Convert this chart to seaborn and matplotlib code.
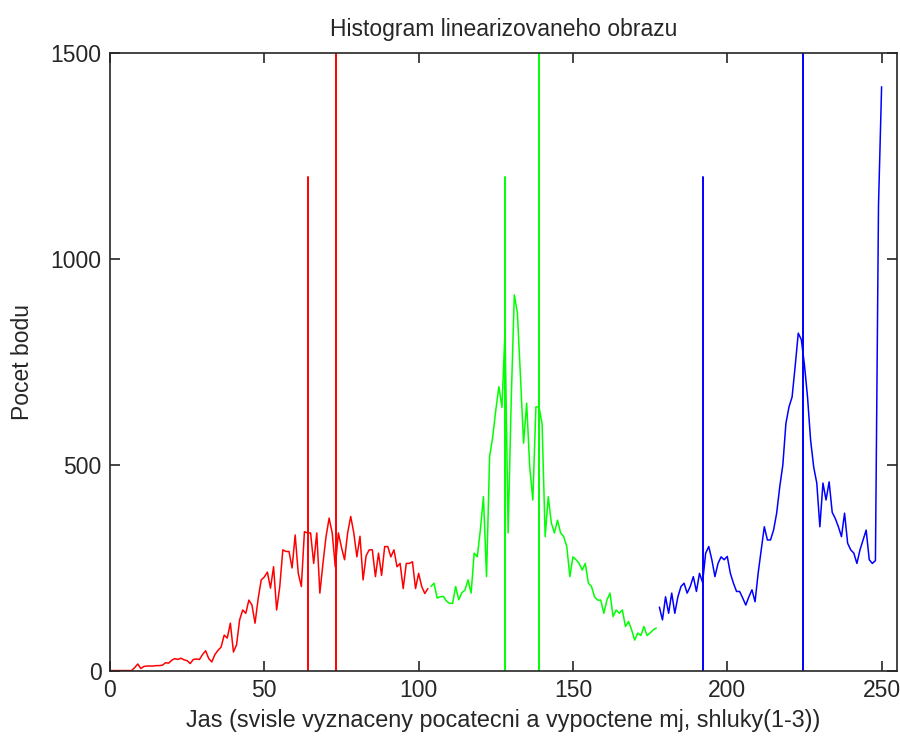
import numpy as np
import pandas as pd
import matplotlib
matplotlib.use("Agg")
import matplotlib.pyplot as plt
import seaborn as sns

# ---- data ----
counts_red = [1, 1, 1, 1, 1, 1, 1, 1, 8, 17,
              6, 11, 12, 12, 12, 13, 13, 14, 20, 19,
              26, 30, 28, 31, 27, 25, 18, 28, 29, 28,
              40, 49, 30, 22, 40, 50, 58, 87, 80, 116,
              46, 63, 124, 148, 140, 172, 160, 116, 175, 221,
              228, 240, 201, 253, 148, 204, 294, 290, 290, 250,
              330, 237, 205, 338, 335, 335, 261, 335, 189, 261,
              326, 371, 335, 253, 335, 300, 270, 335, 375, 335,
              277, 327, 221, 280, 294, 294, 229, 286, 232, 302,
              302, 277, 294, 253, 261, 200, 261, 261, 265, 200,
              237, 205, 188, 200]                      # x = 0 .. 103
counts_green = [205, 213, 177, 180, 181, 170, 164, 164, 205, 173,
                190, 196, 221, 189, 286, 277, 342, 423, 229, 520,
                568, 633, 690, 640, 828, 335, 658, 913, 869, 714,
                553, 650, 495, 415, 641, 641, 600, 326, 423, 359,
                335, 366, 335, 326, 302, 229, 277, 270, 261, 245,
                261, 213, 205, 180, 172, 172, 140, 172, 189, 132,
                148, 140, 148, 108, 120, 100, 75, 92, 86, 108,
                86, 92, 100, 104]                       # x = 104 .. 177
counts_blue = [155, 124, 180, 140, 189, 140, 180, 205, 213, 189,
               205, 229, 193, 237, 215, 286, 302, 270, 229, 261,
               277, 270, 278, 237, 213, 193, 193, 177, 160, 180,
               197, 168, 237, 294, 350, 318, 318, 342, 383, 447,
               500, 601, 641, 665, 740, 820, 804, 743, 665, 560,
               495, 456, 350, 456, 415, 459, 385, 370, 350, 326,
               383, 310, 294, 286, 261, 294, 318, 342, 270, 261,
               268, 1131, 1418]                         # x = 178 .. 250
start_red, start_green, start_blue = 0, 104, 178
initial_means = [64, 128, 192]
final_means = [73.3, 139.1, 224.4]
initial_height = 1200
final_height = 1500
cluster_colors = ["#ff0000", "#00ff00", "#0000ff"]
x_ticks = [0, 50, 100, 150, 200, 250]
y_ticks = [0, 500, 1000, 1500]

title = "Histogram linearizovaneho obrazu"
xlabel = "Jas (svisle vyznaceny pocatecni a vypoctene mj, shluky(1-3))"
ylabel = "Pocet bodu"

# ---- build table ----
frames = []
for name, start, vals in [("1", start_red, counts_red),
                          ("2", start_green, counts_green),
                          ("3", start_blue, counts_blue)]:
    frames.append(pd.DataFrame({"jas": np.arange(start, start + len(vals)),
                                "pocet": vals, "shluk": name}))
df = pd.concat(frames, ignore_index=True)

# ---- style ----
sns.set_style("ticks")
plt.rcParams["font.family"] = ["Liberation Sans", "DejaVu Sans"]
plt.rcParams["xtick.direction"] = "in"
plt.rcParams["ytick.direction"] = "in"

fig = plt.figure(figsize=(9.0, 7.37), dpi=100)
ax = fig.add_axes([0.1222, 0.0896, 0.8745, 0.8385])

for name, col in zip(["1", "2", "3"], cluster_colors):
    sub = df[df["shluk"] == name]
    sns.lineplot(data=sub, x="jas", y="pocet", color=col, lw=1.1,
                 estimator=None, ax=ax, legend=False)

for m, col in zip(initial_means, cluster_colors):
    ax.plot([m, m], [0, initial_height], color=col, lw=1.4)
for m, col in zip(final_means, cluster_colors):
    ax.plot([m, m], [0, final_height], color=col, lw=1.4)

ax.set_xlim(0, 255)
ax.set_ylim(0, 1500)
ax.set_xticks(x_ticks)
ax.set_yticks(y_ticks)
ax.tick_params(axis="both", which="both", direction="in", length=7,
               width=1.2, labelsize=16.5, top=True, right=True, color="#262626",
               pad=6)
for s in ax.spines.values():
    s.set_visible(True)
    s.set_linewidth(1.2)
    s.set_color("#262626")

ax.set_title(title, fontsize=16.5, pad=12)
ax.set_xlabel(xlabel, fontsize=16.8, labelpad=5)
ax.set_ylabel(ylabel, fontsize=16.5, labelpad=12)

fig.savefig("out.png", dpi=100)
